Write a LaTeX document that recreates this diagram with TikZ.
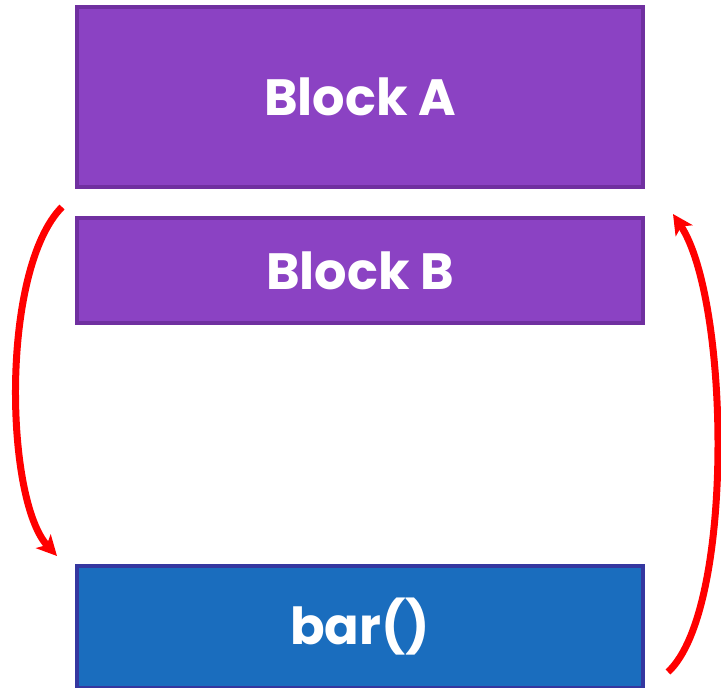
\documentclass[tikz,border=0pt]{standalone}
\usepackage{fontspec}
\setmainfont{Poppins}
\usetikzlibrary{arrows.meta}
\definecolor{purfill}{HTML}{8B42C3}
\definecolor{purline}{HTML}{7030A0}
\definecolor{bluefill}{HTML}{1A6DBE}
\definecolor{blueline}{HTML}{3537A0}
\definecolor{arrred}{HTML}{FF0000}
\tikzset{
  blk/.style={draw=purline, fill=purfill, line width=4pt, minimum width=566pt, anchor=north west, inner sep=0pt, text=white, font=\fontsize{51}{60}\selectfont\bfseries},
  blkblue/.style={blk, draw=blueline, fill=bluefill},
  redarr/.style={draw=arrred, line width=7pt, -{Stealth[length=20pt,width=20pt,inset=5pt]}}
}
\begin{document}
\begin{tikzpicture}[x=1pt,y=-1pt]
\useasboundingbox (0,0) rectangle (721,688);
\node[blk, minimum height=180pt] (A) at (75,5) {Block A};
\node[blk, minimum height=105pt] (B) at (75,216) {Block B};
\node[blkblue, minimum height=122pt] (bar) at (75,564) {bar()};
\coordinate (l1) at (62,207);
\coordinate (l2) at (57,556);
\coordinate (r1) at (668,672);
\coordinate (r2) at (673,214);
\draw[redarr] (l1) .. controls (0,270) and (5,500) .. (l2);
\draw[redarr] (r1) .. controls (735,610) and (730,300) .. (r2);
\end{tikzpicture}
\end{document}
